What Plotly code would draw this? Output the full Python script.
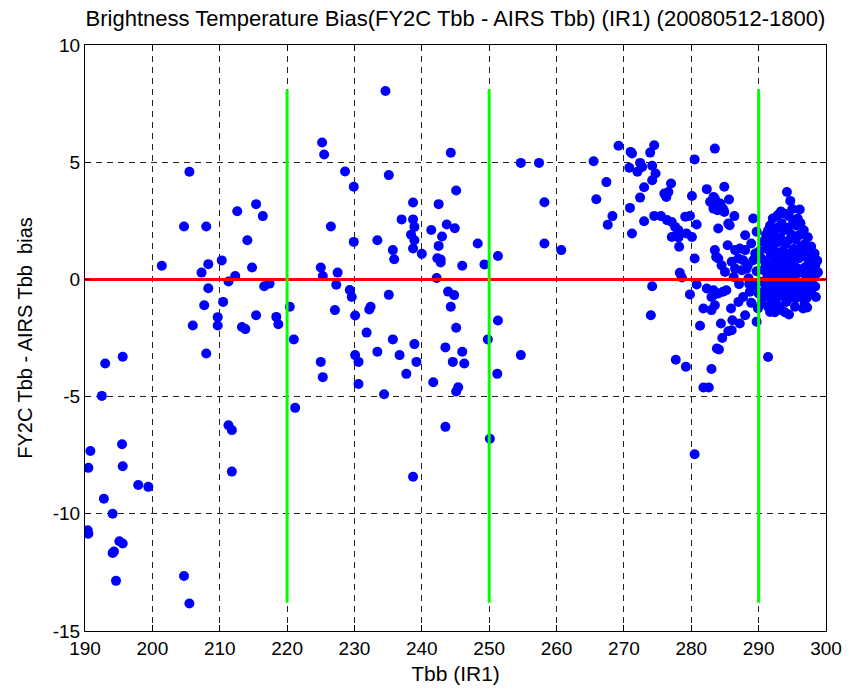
import plotly.graph_objects as go

# ---------------- data ----------------
tbb_left = [190.4, 190.5, 190.8, 190.5, 192.5, 193.0, 195.6, 192.8, 194.1, 195.1, 195.6, 194.1, 194.3,
            194.6, 195.5, 195.6, 197.9, 199.4, 204.7, 205.5, 208.0, 211.3, 211.8, 211.8, 221.0, 221.2,
            205.5, 212.6, 215.4, 216.4, 204.7, 208.0, 214.1, 201.4, 208.3, 210.3, 207.3, 214.8, 212.3,
            211.3, 216.6, 217.4, 208.3, 207.7, 210.5, 220.4, 209.7, 209.7, 206.0, 215.4, 213.3, 213.8,
            218.4, 218.7]
bias_left = [-10.7, -10.85, -7.32, -8.04, -4.97, -3.59, -3.3, -9.36, -10.0, -11.17, -11.27, -11.67, -11.61,
             -12.86, -7.03, -7.97, -8.77, -8.85, -12.65, -13.83, -3.16, -6.22, -6.43, -8.2, -2.56, -5.48,
             4.59, 2.91, 3.21, 2.70, 2.26, 2.26, 1.67, 0.58, 0.65, 0.81, 0.29, 0.51, 0.14,
             -0.09, -0.29, -0.18, -0.38, -1.1, -0.96, -1.17, -1.61, -1.97, -1.97, -1.53, -2.03, -2.12,
             -1.6, -1.91]

tbb_mid = [234.6, 225.2, 225.5, 244.3, 228.6, 235.1, 229.9, 245.1, 238.7, 242.5, 237.0, 238.7, 238.9,
           238.4, 226.5, 243.7, 244.9, 241.4, 243.0, 238.9, 229.9, 233.4, 248.3, 242.5, 235.7, 235.9,
           238.7, 240.0, 242.3, 242.8, 242.8, 251.3, 246.0, 249.3, 225.0, 225.3, 227.5, 227.3, 242.2,
           229.3, 229.6, 235.1, 243.9, 244.8, 227.1, 232.4, 232.2, 244.3, 230.1, 251.3, 245.1, 231.8,
           235.7, 238.9, 249.8, 243.5, 230.1, 230.6, 233.4, 236.7, 246.0, 246.3, 244.6, 239.2, 225.0,
           225.3, 237.7, 230.6, 241.7, 245.4, 245.1, 234.4, 251.2, 243.5, 250.1, 238.7,
           254.7, 257.4, 265.5, 258.2, 265.9, 258.2, 260.7, 254.7]
bias_mid = [8.04, 5.84, 5.33, 5.40, 4.6, 4.45, 3.95, 3.79, 3.28, 3.21, 2.56, 2.56, 2.24,
            1.91, 2.26, 2.34, 2.18, 2.11, 1.83, 1.67, 1.6, 1.67, 1.53, 1.43, 1.25, 0.86,
            1.32, 1.09, 0.9, 0.85, 0.72, 1.0, 0.58, 0.64, 0.51, 0.14, 0.29, -0.23, 0.06,
            -0.45, -0.75, -0.66, -0.52, -0.67, -1.31, -1.17, -1.28, -1.17, -1.54, -1.75, -2.06, -2.27,
            -2.56, -2.76, -2.56, -2.9, -3.23, -3.52, -3.09, -3.23, -3.09, -3.59, -3.52, -3.52, -3.52,
            -4.17, -4.03, -4.46, -4.39, -4.6, -4.78, -4.9, -4.03, -6.29, -6.8, -8.42,
            4.97, 4.97, 5.04, 3.29, 3.42, 1.53, 1.25, -3.23]

tbb_warm = [269.2, 271.0, 271.2, 274.5, 273.9, 280.5, 283.5, 270.8, 272.4, 272.7, 272.0, 274.2, 274.7,
            274.2, 267.4, 273.0, 277.0, 276.0, 276.3, 276.6, 272.4, 280.1, 282.3, 282.8, 283.5, 283.3,
            270.9, 268.3, 267.6, 271.2, 273.0, 274.5, 275.5, 276.4, 277.1, 277.6, 278.1, 277.8, 277.1,
            278.1, 279.3, 280.1, 279.1, 279.8, 280.8, 278.2, 280.5, 278.3, 278.6, 274.2, 280.8, 279.8,
            283.5, 283.7, 284.0, 282.3, 283.5,
            274.0, 283.3, 283.0, 281.8, 283.0, 283.5, 281.3, 283.8, 277.7, 279.2, 283.0, 281.8, 282.6,
            280.5,
            284.9, 283.3, 283.5, 283.3, 284.3, 283.9, 284.7, 285.6, 286.4, 284.9, 285.5, 285.7, 288.0,
            289.7, 285.4, 286.5, 287.2, 288.0, 288.9, 284.0, 284.5, 286.0, 287.0, 287.7, 288.4, 289.2,
            286.5, 287.5, 288.2, 285.0,
            283.3, 284.0, 284.7, 285.2, 285.9, 287.0, 287.7, 288.7, 284.4, 286.1, 287.2, 288.0, 289.7,
            285.5, 286.0, 284.6, 284.1, 291.4, 298.5,
            286.3, 287.1, 288.5, 289.3, 289.7, 290.1, 289.5, 290.0, 288.9, 289.2, 288.6]
bias_warm = [5.7, 5.44, 5.37, 5.72, 5.41, 5.12, 5.58, 4.76, 4.97, 4.8, 4.59, 4.85, 4.52,
             4.23, 4.15, 3.93, 4.09, 3.66, 3.52, 3.73, 3.49, 3.56, 3.85, 3.31, 3.45, 3.17,
             3.05, 2.7, 2.33, 1.96, 2.48, 2.71, 2.7, 2.53, 2.45, 2.24, 2.1, 1.89, 1.81,
             1.79, 1.96, 1.81, 2.67, 2.71, 2.34, 1.39, 0.89, 0.28, 0.08, -0.29, -0.22, -0.64,
             1.25, 0.96, 2.17, -0.39, -0.6,
             -1.53, -0.46, -0.75, -1.24, -1.31, -1.1, -1.98, -2.95, -3.43, -3.73, -3.82, -4.61, -4.61,
             -7.46,
             3.95, 3.52, 3.24, 3.02, 3.24, 2.95, 3.02, 3.41, 2.7, 2.88, 2.38, 2.31, 1.88,
             2.03, 1.46, 1.25, 1.32, 1.25, 1.53, 0.89, 0.6, 0.75, 0.89, 0.82, 0.61, 0.82,
             0.46, 0.39, 0.46, 0.32,
             -0.67, -0.6, -0.53, -0.46, -1.24, -0.96, -0.75, -0.53, -1.88, -1.74, -1.88, -1.53, -1.81,
             -2.21, -2.17, -2.5, -2.99, -3.31, -0.75,
             0.1, -0.2, 0.05, -0.25, 0.35, 1.2, 1.1, -0.6, -1.0, 2.6, -0.2]

tbb_blob = [291.4, 292.1, 292.8, 294.2, 294.7, 296.1, 295.8, 289.9, 290.4, 291.4, 291.7, 292.6, 294.1,
            295.4, 296.6, 296.8,
            290.6, 290.4, 290.7, 290.5, 290.8, 290.6,
            291.1, 291.2, 291.0, 291.3, 291.1, 291.2,
            291.7, 291.6, 291.8, 291.6, 291.9, 291.7, 291.9,
            292.3, 292.2, 292.4, 292.1, 292.3, 292.2, 292.4,
            292.8, 292.9, 292.7, 292.9, 292.6, 292.9, 292.8,
            293.3, 293.4, 293.2, 293.5, 293.3, 293.4, 293.2, 293.5, 293.3,
            293.9, 293.8, 294.0, 293.9, 294.1, 293.8, 294.0, 293.9,
            294.5, 294.4, 294.6, 294.4, 294.6, 294.5, 294.3, 294.6, 294.5,
            295.0, 295.1, 294.9, 295.2, 295.0, 295.1, 294.9, 295.2,
            295.6, 295.5, 295.7, 295.6, 295.4, 295.7, 295.5,
            296.2, 296.1, 296.3, 296.0, 296.2, 296.1, 296.3,
            296.7, 296.8, 296.6, 296.8, 296.7, 296.9,
            297.3, 297.2, 297.4, 297.2, 297.3, 297.1, 297.2,
            297.8, 297.9, 297.7, 297.9, 297.8,
            298.3, 298.4, 298.3, 298.4,
            298.7, 298.8]
bias_blob = [2.1, 2.6, 2.74, 3.73, 3.35, 2.98, 2.6, -1.24, -1.03, -1.17, -1.39, -0.82, -0.96,
             -1.17, -1.24, -0.96,
             1.6, 0.9, 0.4, -0.1, -0.5, -0.8,
             1.9, 1.3, 0.7, 0.2, -0.3, -0.7,
             2.3, 1.6, 1.0, 0.5, 0.0, -0.5, -1.0,
             1.9, 1.3, 0.7, 0.2, -0.3, -0.8, -1.4,
             2.2, 1.6, 1.0, 0.5, 0.0, -0.5, -1.1,
             2.9, 2.4, 1.8, 1.2, 0.7, 0.2, -0.3, -0.7, -1.3,
             2.8, 2.1, 1.5, 0.9, 0.4, -0.1, -0.5, -1.4,
             2.7, 2.2, 1.7, 1.1, 0.6, 0.1, -0.4, -0.8, -1.5,
             3.0, 2.4, 1.9, 1.3, 0.8, 0.3, -0.2, -0.6,
             2.3, 1.7, 1.1, 0.5, 0.0, -0.4, -0.8,
             2.4, 1.9, 1.4, 0.9, 0.3, -0.2, -0.7,
             2.1, 1.5, 1.0, 0.5, -0.1, -0.5,
             1.8, 1.2, 0.7, 0.2, -0.3, -0.8, -1.2,
             1.4, 0.9, 0.4, -0.1, -0.5,
             1.1, 0.6, 0.1, -0.3,
             0.8, 0.3]

divider_x = [220, 250, 290]
divider_range = [-13.8, 8.1]
x_ticks = [190, 200, 210, 220, 230, 240, 250, 260, 270, 280, 290, 300]
y_ticks = [-15, -10, -5, 0, 5, 10]
y_ticklabels = ["-15", "-10", "-5", "0", "5", "10"]
title_text = "Brightness Temperature Bias(FY2C Tbb - AIRS Tbb) (IR1) (20080512-1800)"
x_title = "Tbb (IR1)"
y_title = "FY2C Tbb - AIRS Tbb\u00a0 bias"

# ---------------- figure ----------------
all_x = tbb_left + tbb_mid + tbb_warm + tbb_blob
all_y = bias_left + bias_mid + bias_warm + bias_blob

FONT = "Liberation Sans, Arial, sans-serif"

fig = go.Figure()
fig.add_trace(go.Scatter(x=all_x, y=all_y, mode="markers",
                         marker=dict(color="#0000FF", size=10, line=dict(width=0)),
                         showlegend=False, hoverinfo="x+y"))
fig.add_trace(go.Scatter(x=[x_ticks[0], x_ticks[-1]], y=[0, 0], mode="lines",
                         line=dict(color="#FF0000", width=3), showlegend=False))
for dx in divider_x:
    fig.add_trace(go.Scatter(x=[dx, dx], y=divider_range, mode="lines",
                             line=dict(color="#00FF00", width=3), showlegend=False))

axis_common = dict(showline=True, linecolor="black", linewidth=1, mirror="ticks",
                   ticks="inside", ticklen=6, tickcolor="black", tickwidth=1,
                   showgrid=True, gridcolor="#222222", gridwidth=1, griddash="6px,5px",
                   zeroline=False, automargin=False,
                   tickfont=dict(family=FONT, size=19, color="black"))

fig.update_layout(
    width=852, height=693,
    margin=dict(l=85, r=26, t=45, b=62),
    paper_bgcolor="white", plot_bgcolor="white",
    title=dict(text=title_text, x=0.5346, xanchor="center", xref="container",
               y=1 - 18 / 693, yanchor="middle", yref="container",
               font=dict(family=FONT, size=22, color="black")),
    xaxis=dict(range=[190, 300], tickvals=x_ticks, **axis_common,
               title=dict(text=x_title, font=dict(family=FONT, size=21, color="black"), standoff=8)),
    yaxis=dict(range=[-15, 10], tickvals=y_ticks, ticktext=y_ticklabels, **axis_common,
               title=dict(text=y_title, font=dict(family=FONT, size=20, color="black"), standoff=14)),
)

fig.write_html("out.html")
